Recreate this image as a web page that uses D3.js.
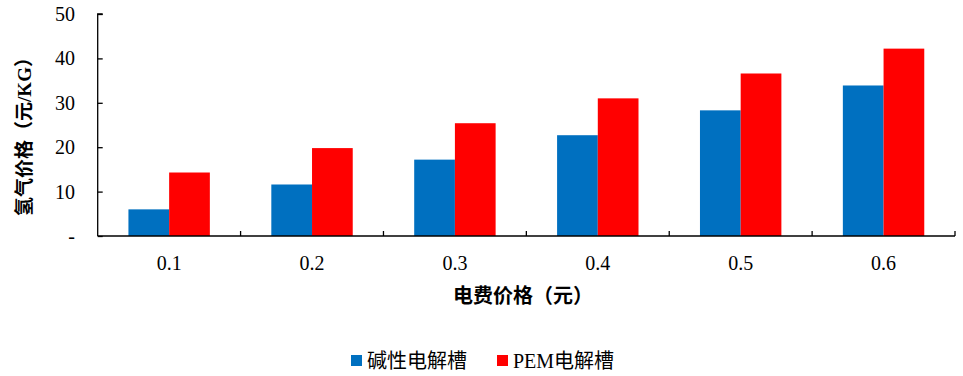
<!DOCTYPE html>
<html>
<head>
<meta charset="utf-8">
<script src="https://cdn.jsdelivr.net/npm/d3@7/dist/d3.min.js"></script>
<style>
  html, body { margin: 0; padding: 0; background: #fff; }
  svg { display: block; }
  text { font-family: "Liberation Serif", "Noto Sans CJK SC", serif; fill: #000; }
</style>
</head>
<body>
<svg id="chart" width="963" height="376"></svg>
<script>
// Hydrogen production cost vs. electricity price
const categories = ["0.1", "0.2", "0.3", "0.4", "0.5", "0.6"];
const seriesNames = ["碱性电解槽", "PEM电解槽"];
const alkalineValues = [6.0, 11.6, 17.2, 22.7, 28.3, 33.9];
const pemValues = [14.3, 19.8, 25.4, 31.0, 36.6, 42.2];
const yTicks = [0, 10, 20, 30, 40, 50];
const yTickLabels = ["-", "10", "20", "30", "40", "50"];
const colors = ["#0070C0", "#FF0000"];

const svg = d3.select("#chart");
const x0 = 97.7, x1 = 955;
const y0 = 236, y1 = 14;

const x = d3.scaleBand().domain(categories).range([x0, x1]).paddingInner(0).paddingOuter(0);
const xs = d3.scaleBand().domain(seriesNames).range([0, x.bandwidth()]).paddingInner(0).paddingOuter(0.755);
const y = d3.scaleLinear().domain([0, 50]).range([y0, y1]);

const data = categories.map((c, i) => ({ c, vals: [alkalineValues[i], pemValues[i]] }));

// bars
const groups = svg.append("g").selectAll("g").data(data).join("g")
  .attr("transform", d => `translate(${x(d.c)},0)`);
groups.selectAll("rect").data(d => d.vals.map((v, j) => ({ v, j })))
  .join("rect")
  .attr("x", d => xs(seriesNames[d.j]))
  .attr("width", xs.bandwidth())
  .attr("y", d => y(d.v))
  .attr("height", d => y0 - y(d.v))
  .attr("fill", d => colors[d.j]);

// y axis with inward ticks
const yAxis = d3.axisRight(y).tickValues(yTicks).tickSize(5).tickFormat("");
const gy = svg.append("g").attr("transform", `translate(${x0},0)`).call(yAxis);
gy.select(".domain").attr("d", `M5,${y1}H0V${y0}`).attr("stroke", "#000").attr("stroke-width", 1.3);
gy.selectAll(".tick line").attr("stroke", "#000").attr("stroke-width", 1.3);

svg.append("g").selectAll("text").data(yTicks).join("text")
  .attr("x", 75).attr("y", d => y(d))
  .attr("dy", "0.35em")
  .attr("text-anchor", "end")
  .attr("font-size", 20)
  .text((d, i) => yTickLabels[i]);

// x axis with inward ticks at category boundaries
const boundaries = categories.map(c => x(c)).concat([x1]);
const gx = svg.append("g");
gx.append("line").attr("x1", x0).attr("x2", x1).attr("y1", y0).attr("y2", y0)
  .attr("stroke", "#000").attr("stroke-width", 1.3);
gx.selectAll("line.tk").data(boundaries.slice(1)).join("line").attr("class", "tk")
  .attr("x1", d => d).attr("x2", d => d).attr("y1", y0).attr("y2", y0 - 5)
  .attr("stroke", "#000").attr("stroke-width", 1.3);
gx.selectAll("text").data(categories).join("text")
  .attr("x", d => x(d) + x.bandwidth() / 2)
  .attr("y", 263).attr("dy", "0.35em")
  .attr("text-anchor", "middle").attr("font-size", 20)
  .text(d => d);

// axis titles
svg.append("text").attr("x", 523).attr("y", 296).attr("dy", "0.35em")
  .attr("text-anchor", "middle").attr("font-size", 20).attr("font-weight", "bold")
  .text("电费价格（元）");
svg.append("text").attr("transform", "translate(24,132) rotate(-90)").attr("dy", "0.35em")
  .attr("text-anchor", "middle").attr("font-size", 19).attr("font-weight", "bold")
  .text("氢气价格（元/KG）");

// legend
const legendItems = [{ name: seriesNames[0], x: 351 }, { name: seriesNames[1], x: 497 }];
const lg = svg.append("g").selectAll("g").data(legendItems).join("g")
  .attr("transform", d => `translate(${d.x},0)`);
lg.append("rect").attr("x", 0).attr("y", 355).attr("width", 11).attr("height", 11)
  .attr("fill", (d, i) => colors[i]);
lg.append("text").attr("x", 16).attr("y", 361).attr("dy", "0.35em")
  .attr("font-size", 20).text(d => d.name);
</script>
</body>
</html>
